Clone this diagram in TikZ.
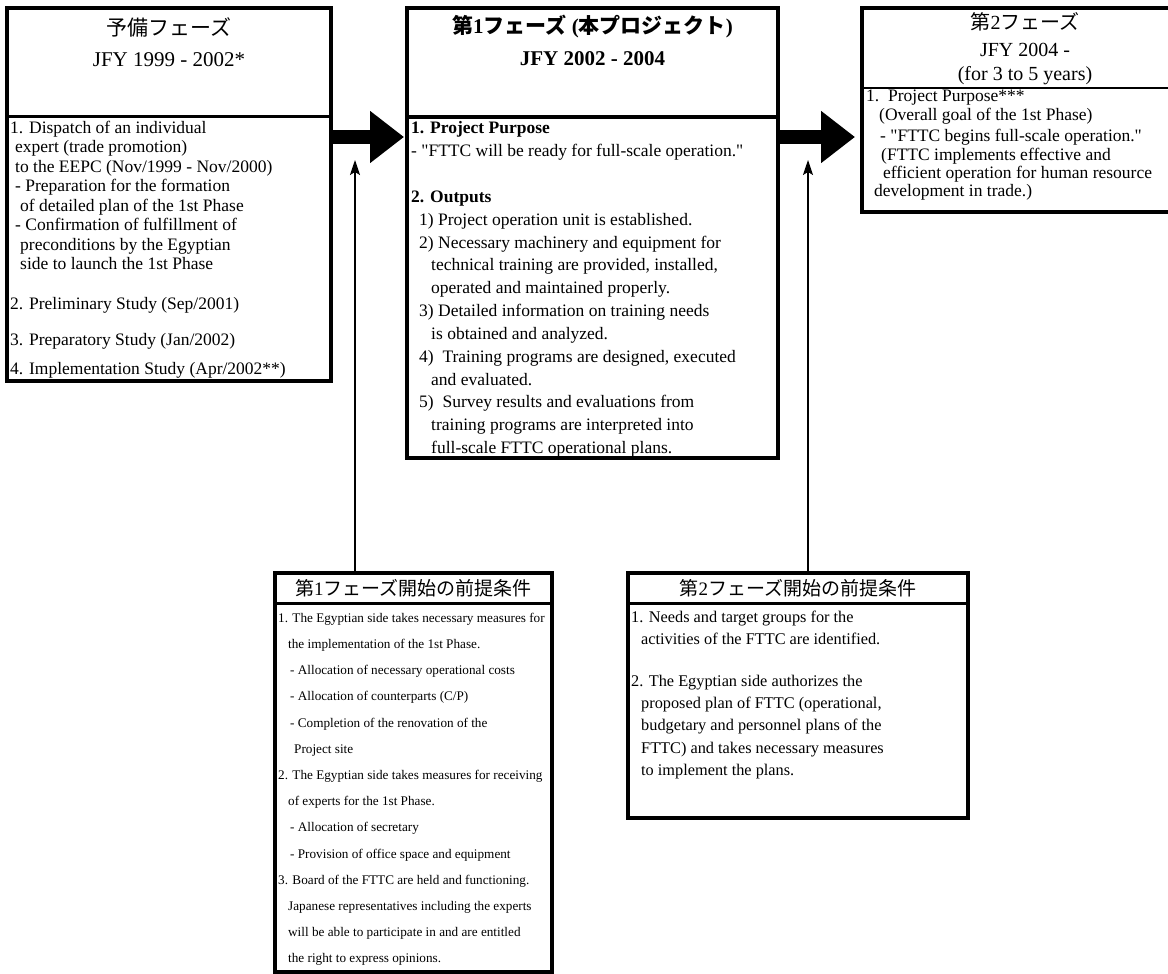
\documentclass[tikz,border=0pt]{standalone}
\usepackage{fontspec}
\setmainfont{Liberation Serif}
\newfontfamily\jp{Noto Sans CJK JP}
\usetikzlibrary{arrows.meta}

% one text line per entry: baseline y / indent / text
\newcommand\txtlines[3]{%
  \foreach \yy/\dx/\t [count=\n] in {#3}{%
    \node[anchor=base west, inner sep=0pt] (#1-\n) at ({#2+\dx},\yy) {\t};}}
\newcommand\q{\textquotedbl}

\begin{document}
\begin{tikzpicture}[x=1pt,y=-1pt,
  frame/.style={draw=black, line width=3.5pt, inner sep=0pt, outer sep=0pt, anchor=north west},
  sepline/.style={line width=3pt},
  bigarrow/.style={line width=14pt, -{Triangle[length=34pt,width=50pt]}},
  thinarrow/.style={line width=1.3pt, -{Stealth[length=15pt,width=10pt,inset=3pt]}},
  head/.style={font=\fontsize{21}{24}\selectfont},
  lowhead/.style={font=\fontsize{19}{22}\selectfont},
]
\clip (0,0) rectangle (1168,974);
\fill[white] (0,0) rectangle (1168,974);

% ---------- phase boxes ----------
\node[frame, minimum width=324pt, minimum height=373pt] (A) at (7,8) {};
\node[frame, line width=4.5pt, minimum width=371pt, minimum height=450pt] (B) at (407,8) {};
\node[frame, minimum width=330pt, minimum height=204pt] (C) at (862,8) {};

\draw[sepline] ([yshift=-108pt]A.north west) -- ([yshift=-108pt]A.north east);
\draw[sepline, line width=3.5pt] ([yshift=-109pt]B.north west) -- ([yshift=-109pt]B.north east);
\draw[line width=1.5pt] ([yshift=-80pt]C.north west) -- ([yshift=-80pt]C.north east);

% headers
\node[head] (A-t1) at ([yshift=-19pt]A.north) {\jp 予備フェーズ};
\node[head] (A-t2) at ([yshift=-52pt]A.north) {JFY 1999 - 2002*};
\node[head, font=\fontsize{21}{24}\selectfont\bfseries] (B-t1) at ([yshift=-19pt]B.north) {{\jp 第}1{\jp フェーズ} ({\jp 本プロジェクト})};
\node[head, font=\fontsize{21}{24}\selectfont\bfseries] (B-t2) at ([yshift=-51pt]B.north) {JFY 2002 - 2004};
\node[head, font=\fontsize{20}{24}\selectfont] (C-t1) at (1025,22) {{\jp 第}2{\jp フェーズ}};
\node[head, font=\fontsize{20}{24}\selectfont] (C-t2) at (1025,50) {JFY 2004 -};
\node[head, font=\fontsize{20}{24}\selectfont] (C-t3) at (1025,76) {(for 3 to 5 years)};

% bodies
\begin{scope}[nodes={font=\fontsize{17.5}{20}\selectfont}]
\txtlines{A}{10}{
  133/0/{1. Dispatch of an individual},
  152.5/5/{expert (trade promotion)},
  172/5/{to the EEPC (Nov/1999 - Nov/2000)},
  191.5/5/{- Preparation for the formation},
  211/10/{of detailed plan of the 1st Phase},
  230.5/5/{- Confirmation of fulfillment of},
  250/10/{preconditions by the Egyptian},
  269.5/10/{side to launch the 1st Phase},
  309/0/{2. Preliminary Study (Sep/2001)},
  345/0/{3. Preparatory Study (Jan/2002)},
  374/0/{4. Implementation Study (Apr/2002**)}}
\txtlines{B}{411}{
  133/0/{\bfseries 1. Project Purpose},
  156/0/{- \q FTTC will be ready for full-scale operation.\q},
  202/0/{\bfseries 2. Outputs},
  225/8/{1) Project operation unit is established.},
  248/8/{2) Necessary machinery and equipment for},
  270/20/{technical training are provided, installed,},
  293/20/{operated and maintained properly.},
  316/8/{3) Detailed information on training needs},
  339/20/{is obtained and analyzed.},
  362/8/{4)\ \ Training programs are designed, executed},
  385/20/{and evaluated.},
  407/8/{5)\ \ Survey results and evaluations from},
  430/20/{training programs are interpreted into},
  453/20/{full-scale FTTC operational plans.}}
\txtlines{C}{866}{
  102/0/{1.\ \ Project Purpose***},
  121/13/{(Overall goal of the 1st Phase)},
  141/14/{- \q FTTC begins full-scale operation.\q},
  160/15/{(FTTC implements effective and},
  178/17/{efficient operation for human resource},
  196/8/{development in trade.)}}
\end{scope}

% ---------- precondition boxes ----------
\node[frame, minimum width=277pt, minimum height=399pt] (D) at (275,573) {};
\node[frame, minimum width=340pt, minimum height=245pt] (E) at (628,573) {};
\draw[sepline] ([yshift=-30pt]D.north west) -- ([yshift=-30pt]D.north east);
\draw[sepline] ([yshift=-30pt]E.north west) -- ([yshift=-30pt]E.north east);

\node[lowhead] (D-t) at ([yshift=-15pt]D.north) {{\jp 第}1{\jp フェーズ開始の前提条件}};
\node[lowhead] (E-t) at ([yshift=-15pt]E.north) {{\jp 第}2{\jp フェーズ開始の前提条件}};

\begin{scope}[nodes={font=\fontsize{13.2}{16}\selectfont}]
\txtlines{D}{278}{
  622/0/{1. The Egyptian side takes necessary measures for},
  648/10/{the implementation of the 1st Phase.},
  674/12/{- Allocation of necessary operational costs},
  700/12/{- Allocation of counterparts (C/P)},
  727/12/{- Completion of the renovation of the},
  753/16/{Project site},
  779/0/{2. The Egyptian side takes measures for receiving},
  805/10/{of experts for the 1st Phase.},
  831/12/{- Allocation of secretary},
  858/12/{- Provision of office space and equipment},
  884/0/{3. Board of the FTTC are held and functioning.},
  910/10/{Japanese representatives including the experts},
  936/10/{will be able to participate in and are entitled},
  962/10/{the right to express opinions.}}
\end{scope}
\begin{scope}[nodes={font=\fontsize{16.3}{19}\selectfont}]
\txtlines{E}{631}{
  622/0/{1. Needs and target groups for the},
  644/10/{activities of the FTTC are identified.},
  686/0/{2. The Egyptian side authorizes the},
  708/10/{proposed plan of FTTC (operational,},
  730/10/{budgetary and personnel plans of the},
  753/10/{FTTC) and takes necessary measures},
  775/10/{to implement the plans.}}
\end{scope}

% ---------- connectors ----------
\coordinate (arow) at (0,137);
\draw[bigarrow] (A.east |- arow) -- ([xshift=-3pt]B.west |- arow);
\draw[bigarrow] (B.east |- arow) -- ([xshift=-7pt]C.west |- arow);

\coordinate (tipD) at (355,160);
\coordinate (tipE) at (808,160);
\draw[thinarrow] (D.north -| tipD) -- (tipD);
\draw[thinarrow] (E.north -| tipE) -- (tipE);
\end{tikzpicture}
\end{document}
